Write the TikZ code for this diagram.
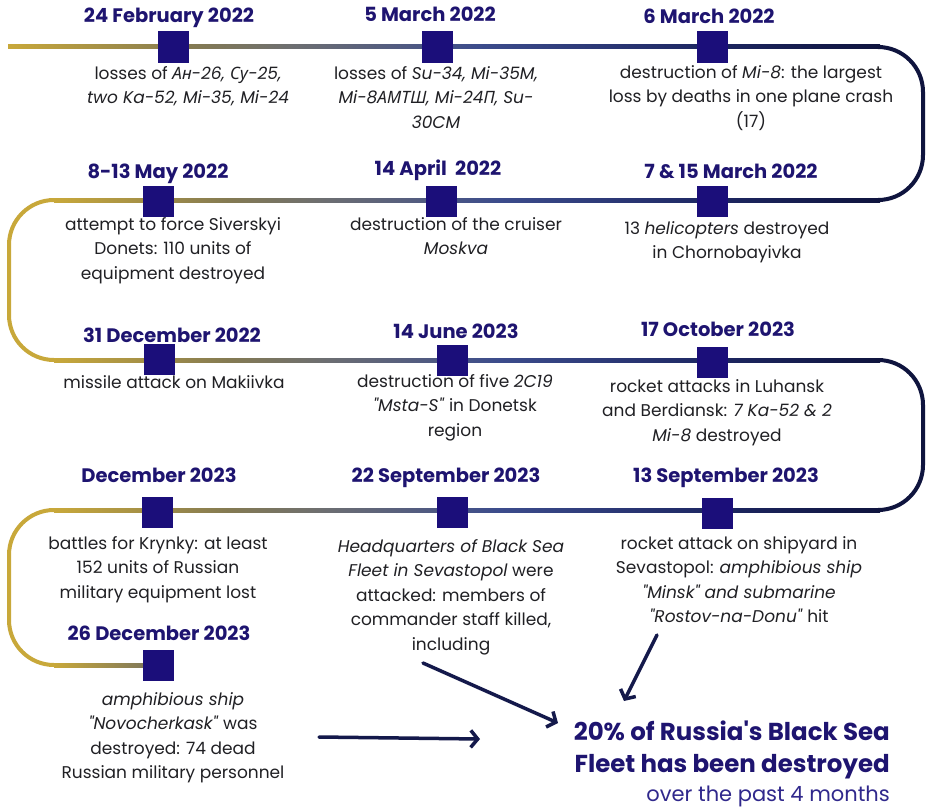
\documentclass[tikz,border=0pt]{standalone}
\usepackage{fontspec}
\setmainfont{Poppins}[Ligatures=TeXOff]
\newfontfamily\cyrfont{Noto Sans}[Ligatures=TeXOff]
\usetikzlibrary{arrows.meta,positioning}

\definecolor{gold}{RGB}{200,168,58}
\definecolor{olivegray}{RGB}{132,122,82}
\definecolor{steelgray}{RGB}{108,110,114}
\definecolor{midblue}{RGB}{60,76,140}
\definecolor{deepblue}{RGB}{30,40,100}
\definecolor{navy}{RGB}{15,20,62}
\definecolor{mark}{RGB}{27,14,122}
\definecolor{datecol}{RGB}{30,20,112}
\definecolor{bodycol}{RGB}{32,32,36}
\definecolor{notecol}{RGB}{48,40,140}
\definecolor{arrowcol}{RGB}{20,25,75}

% the path's box sits between 25bp and 75bp of the shading
\pgfdeclarehorizontalshading{trackfade}{100bp}{color(0bp)=(gold); color(25bp)=(gold);
  color(35.5bp)=(olivegray); color(41.5bp)=(steelgray); color(52bp)=(midblue);
  color(64.5bp)=(deepblue); color(75bp)=(navy); color(100bp)=(navy)}

\tikzset{
  datelabel/.style={font=\fontsize{19.5}{22}\selectfont\bfseries, text=datecol, inner sep=0pt},
  eventtext/.style={font=\fontsize{17}{24.6}\selectfont, text=bodycol, align=center, anchor=north, inner sep=0pt},
  marker/.style={fill=mark, minimum size=31pt, inner sep=0pt},
  track/.style={line width=4pt},
  pointer/.style={line width=3.5pt, arrowcol, -{Straight Barb[length=7pt,width=17pt]}}
}

\begin{document}
\begin{tikzpicture}[x=1pt, y=-1pt, line cap=round, line join=round]

% Background
\fill[white] (0,0) rectangle (928,808);
\useasboundingbox (0,0) rectangle (928,808);

% Track, row by row
\shade[shading=trackfade] (8,45) rectangle (880,49);
\draw[track, navy, rounded corners=45pt] (879,47) -- (923,47) -- (923,200) -- (879,200);
\shade[shading=trackfade] (54,198) rectangle (880,202);
\draw[track, gold, rounded corners=45pt] (55,200) -- (9,200) -- (9,360) -- (55,360);
\shade[shading=trackfade] (54,358) rectangle (880,362);
\draw[track, navy, rounded corners=45pt] (879,360) -- (923,360) -- (923,510) -- (879,510);
\shade[shading=trackfade] (54,508) rectangle (880,512);
\draw[track, gold, rounded corners=45pt] (55,510) -- (9,510) -- (9,665) -- (55,665);
\shade[left color=gold, right color=olivegray!70!steelgray] (54,663) rectangle (150,667);

% Markers
\node[marker] (m1) at (173,47) {};
\node[marker] (m2) at (437,47) {};
\node[marker] (m3) at (712,47) {};
\node[marker] (m4) at (158,201) {};
\node[marker] (m5) at (441,201) {};
\node[marker] (m6) at (712,201) {};
\node[marker] (m7) at (159,359) {};
\node[marker] (m8) at (452,360) {};
\node[marker] (m9) at (712,362) {};
\node[marker] (m10) at (157,512) {};
\node[marker] (m11) at (452,512) {};
\node[marker] (m12) at (717,513) {};
\node[marker] (m13) at (158,665) {};

% Dates
\node[datelabel] (d1) at (169,18) {24 February 2022};
\node[datelabel] (d2) at (430,14) {5 March 2022};
\node[datelabel] (d3) at (709,16) {6 March 2022};
\node[datelabel] (d4) at (158,174) {8-13 May 2022};
\node[datelabel] (d5) at (438,170) {14 April~ 2022};
\node[datelabel] (d6) at (731,171) {7 \& 15 March 2022};
\node[datelabel] (d7) at (172,335) {31 December 2022};
\node[datelabel] (d8) at (456,331) {14 June 2023};
\node[datelabel] (d9) at (718,329) {17 October 2023};
\node[datelabel] (d10) at (159,475) {December 2023};
\node[datelabel] (d11) at (446,478) {22 September 2023};
\node[datelabel] (d12) at (726,478) {13 September 2023};
\node[datelabel] (d13) at (159,633) {26 December 2023};

% Events
\node[eventtext] (e1) at (188,66) {losses of \textit{{\cyrfont Ан}-26, {\cyrfont Су}-25,}\\\textit{two Ka-52, Mi-35, Mi-24}};
\node[eventtext] (e2) at (436,66) {losses of \textit{Su-34, Mi-35M,}\\\textit{Mi-8{\cyrfont АМТШ}, Mi-24{\cyrfont П}, Su-}\\\textit{30CM}};
\node[eventtext] (e3) at (751,65) {destruction of \textit{Mi-8}: the largest\\loss by deaths in one plane crash\\(17)};
\node[eventtext] (e4) at (173,217) {attempt to force Siverskyi\\Donets: 110 units of\\equipment destroyed};
\node[eventtext] (e5) at (456,217) {destruction of the cruiser\\\textit{Moskva}};
\node[eventtext] (e6) at (727,221) {13 \textit{helicopters} destroyed\\in Chornobayivka};
\node[eventtext] (e7) at (174,375) {missile attack on Makiivka};
\node[eventtext] (e8) at (455,374) {destruction of five \textit{2C19}\\\textit{"Msta-S"} in Donetsk\\region};
\node[eventtext] (e9) at (717,379) {rocket attacks in Luhansk\\and Berdiansk: \textit{7 Ka-52 \& 2}\\\textit{Mi-8} destroyed};
\node[eventtext] (e10) at (158,536) {battles for Krynky: at least\\152 units of Russian\\military equipment lost};
\node[eventtext] (e11) at (451,539) {\textit{Headquarters of Black Sea}\\\textit{Fleet in Sevastopol} were\\attacked: members of\\commander staff killed,\\including};
\node[eventtext] (e12) at (739,536) {rocket attack on shipyard in\\Sevastopol: \textit{amphibious ship}\\\textit{"Minsk" and submarine}\\\textit{"Rostov-na-Donu"} hit};
\node[eventtext] (e13) at (173,692) {\textit{amphibious ship}\\\textit{"Novocherkask"} was\\destroyed: 74 dead\\Russian military personnel};

% Summary
\node[anchor=north east, align=right, inner sep=0pt, text=datecol,
  font=\fontsize{24.5}{32}\selectfont\bfseries] (summary) at (890,721)
  {20\% of Russia's Black Sea\\Fleet has been destroyed};
\node[below=6pt of summary.south east, anchor=north east, inner sep=0pt, text=notecol,
  font=\fontsize{21}{24}\selectfont] (note) {over the past 4 months};

% Arrows into the summary
\coordinate (tailA) at (319,737);
\coordinate (tipA) at (480,739);
\coordinate (tailB) at (423,663);
\coordinate (tipB) at (558,723);
\coordinate (tailC) at (657,635);
\coordinate (tipC) at (624,701);
\draw[pointer] (tailA) -- (tipA);
\draw[pointer] (tailB) -- (tipB);
\draw[pointer] (tailC) -- (tipC);
\end{tikzpicture}
\end{document}
